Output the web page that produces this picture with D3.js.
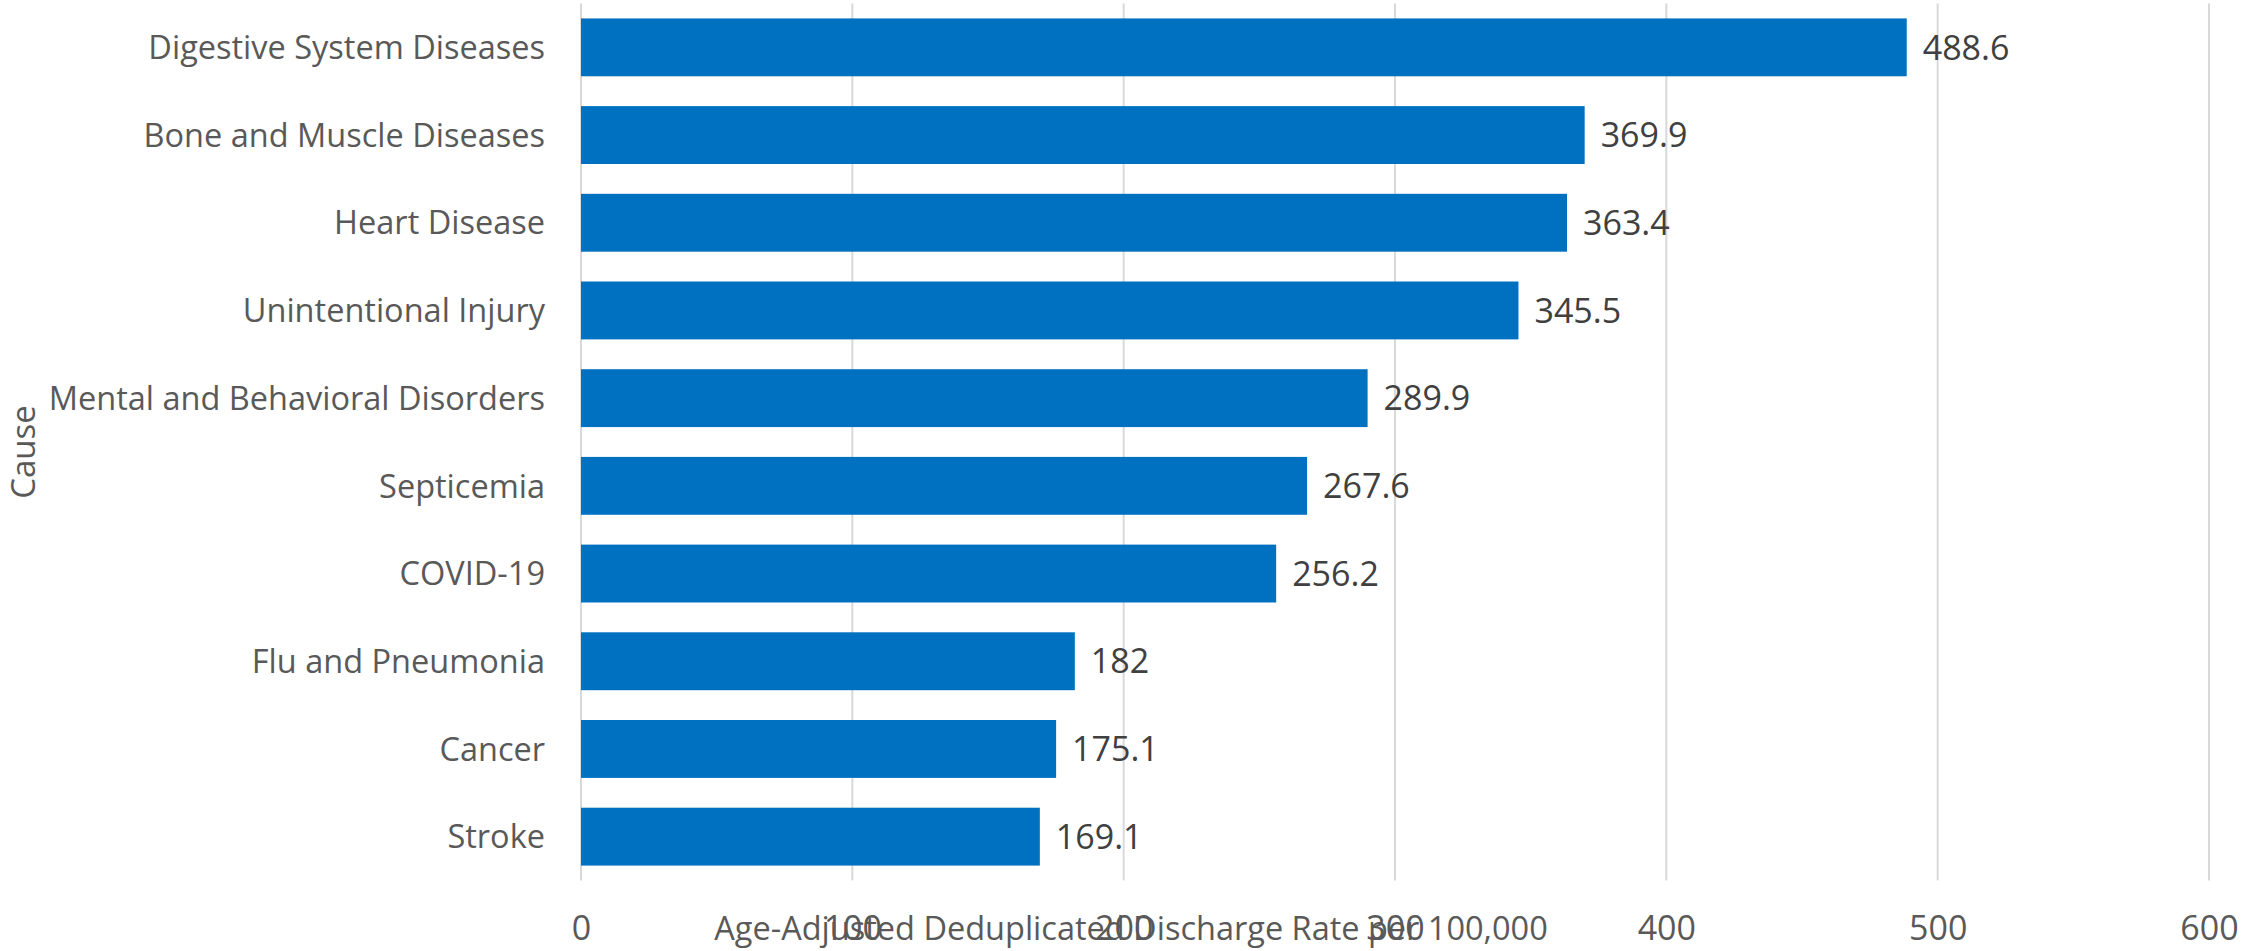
<!DOCTYPE html>
<html>
<head>
<meta charset="utf-8">
<script src="https://cdn.jsdelivr.net/npm/d3@7"></script>
<style>
  html, body { margin: 0; padding: 0; background: #fff; }
  svg { display: block; }
  text { font-family: "Open Sans", "Noto Sans", sans-serif; }
</style>
</head>
<body>
<svg id="chart" width="2242" height="951"></svg>
<script>
const categories = [
  "Digestive System Diseases",
  "Bone and Muscle Diseases",
  "Heart Disease",
  "Unintentional Injury",
  "Mental and Behavioral Disorders",
  "Septicemia",
  "COVID-19",
  "Flu and Pneumonia",
  "Cancer",
  "Stroke"
];
const values = [488.6, 369.9, 363.4, 345.5, 289.9, 267.6, 256.2, 182, 175.1, 169.1];
const valueLabels = ["488.6", "369.9", "363.4", "345.5", "289.9", "267.6", "256.2", "182", "175.1", "169.1"];
const xTicks = [0, 100, 200, 300, 400, 500, 600];
const xTitle = "Age-Adjusted Deduplicated Discharge Rate per 100,000";
const yTitle = "Cause";

(function () {
const svg = d3.select("#chart");
const pLeft = 581, pRight = 2209, pTop = 3.5, pBottom = 880.5;

const x = d3.scaleLinear().domain([0, 600]).range([pLeft, pRight]);
const y = d3.scaleBand().domain(categories).range([pTop, pBottom]).paddingInner(0.34).paddingOuter(0.17);

// gridlines
svg.append("g").selectAll("line").data(xTicks).join("line")
  .attr("x1", d => x(d)).attr("x2", d => x(d))
  .attr("y1", pTop).attr("y2", pBottom)
  .attr("stroke", "#d9d9d9").attr("stroke-width", 2);

// bars
svg.append("g").selectAll("rect").data(categories).join("rect")
  .attr("x", x(0))
  .attr("y", d => y(d))
  .attr("width", (d, i) => x(values[i]) - x(0))
  .attr("height", y.bandwidth())
  .attr("fill", "#0070c0");

// value labels
svg.append("g").selectAll("text").data(categories).join("text")
  .attr("x", (d, i) => x(values[i]) + 16)
  .attr("y", d => y(d) + y.bandwidth() / 2)
  .attr("dy", "0.36em")
  .attr("font-size", 34)
  .attr("fill", "#404040")
  .text((d, i) => valueLabels[i]);

// category axis labels
const yAxis = d3.axisLeft(y).tickSize(0).tickPadding(0);
const gy = svg.append("g").attr("transform", `translate(${pLeft - 36},0)`).call(yAxis);
gy.select(".domain").remove();
gy.selectAll("text").attr("font-size", 32.5).attr("fill", "#595959")
  .attr("font-family", "'Open Sans', sans-serif").attr("dy", "0.36em");

// x axis tick labels
const xAxis = d3.axisBottom(x).tickValues(xTicks).tickSize(0).tickPadding(0).tickFormat(d3.format("d"));
const gx = svg.append("g").attr("transform", `translate(0,928)`).call(xAxis);
gx.select(".domain").remove();
gx.selectAll("text").attr("font-size", 34).attr("fill", "#595959")
  .attr("font-family", "'Open Sans', sans-serif").attr("dy", "0.36em");

// axis titles
svg.append("text")
  .attr("x", 1131).attr("y", 928).attr("dy", "0.36em")
  .attr("text-anchor", "middle").attr("font-size", 32.5).attr("fill", "#595959")
  .text(xTitle);

svg.append("text")
  .attr("transform", "translate(35,452) rotate(-90)")
  .attr("text-anchor", "middle").attr("font-size", 33).attr("fill", "#595959")
  .text(yTitle);
})();
</script>
</body>
</html>
